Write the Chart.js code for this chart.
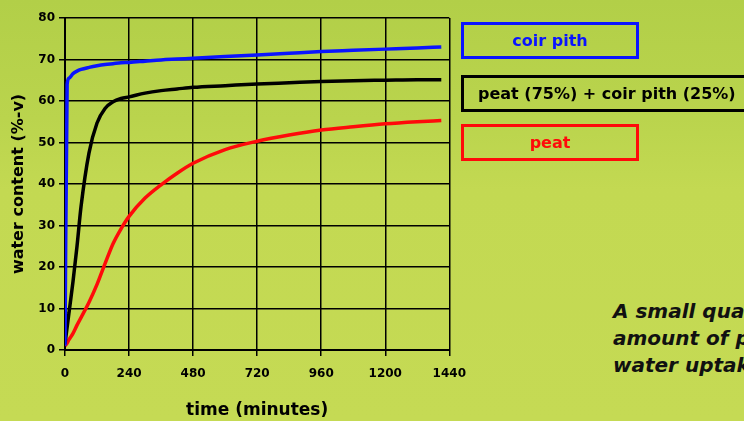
<!DOCTYPE html>
<html>
<head>
<meta charset="utf-8">
<script src="https://cdn.jsdelivr.net/npm/chart.js@4"></script>
<style>
  html, body { margin: 0; padding: 0; }
  body {
    width: 744px; height: 421px; overflow: hidden; position: relative;
    background: linear-gradient(180deg, #b2cf48 0%, #bad44d 28%, #c3d952 45%, #c5da54 100%);
    font-family: "DejaVu Sans", Verdana, sans-serif;
  }
  #wrap { position: absolute; left: 0; top: 0; width: 477px; height: 421px; }
  .box {
    position: absolute; box-sizing: border-box; height: 37px; border: 3px solid;
    font-weight: bold; font-size: 16px; line-height: 31px; text-align: center;
  }
  #note {
    position: absolute; left: 613px; top: 298px; white-space: nowrap;
    font-weight: bold; font-style: italic; font-size: 20px; line-height: 27px; color: #111;
  }
</style>
</head>
<body>
<div id="wrap"><canvas id="waterChart"></canvas></div>
<div class="box" style="left:461px;top:22px;width:178px;border-color:#0a14ff;color:#0a14ff;">coir pith</div>
<div class="box" style="left:461px;top:75px;width:300px;border-color:#000;color:#000;text-align:left;padding-left:14px;">peat (75%) + coir pith (25%)</div>
<div class="box" style="left:461px;top:124px;width:178px;border-color:#ff0a0a;color:#ff0a0a;">peat</div>
<div id="note">A small quantity of coir pith<br>amount of peat increases<br>water uptake</div>
<script>
// time in minutes, shared by all series
const timeMinutes = [0, 8, 15, 30, 45, 60, 90, 120, 150, 180, 210, 240, 300, 360, 420, 480, 600, 720, 840, 960, 1080, 1200, 1320, 1410]
// water content (%-v)
const coirPith = [1, 64, 65.5, 66.6, 67.2, 67.6, 68.1, 68.5, 68.8, 69.0, 69.2, 69.3, 69.6, 69.9, 70.1, 70.3, 70.7, 71.1, 71.5, 71.9, 72.2, 72.5, 72.8, 73.0]
const peatCoirMix = [1.5, 5.5, 9, 16.5, 25, 34.5, 47.5, 54.7, 58.2, 59.8, 60.6, 61, 61.9, 62.5, 62.9, 63.3, 63.7, 64.1, 64.4, 64.7, 64.9, 65, 65.1, 65.1]
const peat = [1, 1.7, 2.5, 4, 6, 7.8, 11.5, 15.8, 20.8, 25.6, 29.2, 32.2, 36.6, 39.8, 42.6, 45, 48.3, 50.3, 51.8, 53, 53.8, 54.5, 55, 55.3]
const xTicks = [0, 240, 480, 720, 960, 1200, 1440]

const toPoints = (vals) => vals.map((v, i) => ({ x: timeMinutes[i], y: v }))

const tickFont = { family: "DejaVu Sans", size: 12, weight: "bold" }

const series = (label, vals, color) => ({
  label: label,
  data: toPoints(vals),
  borderColor: color,
  backgroundColor: color,
  borderWidth: 3.5,
  pointRadius: 0,
  cubicInterpolationMode: "monotone",
  fill: false,
})

const ctx = document.getElementById("waterChart").getContext("2d")
new Chart(ctx, {
  type: "line",
  data: {
    datasets: [
      series("coir pith", coirPith, "#0a14ff"),
      series("peat (75%) + coir pith (25%)", peatCoirMix, "#000000"),
      series("peat", peat, "#ff0a0a"),
    ],
  },
  options: {
    responsive: true,
    maintainAspectRatio: false,
    animation: false,
    layout: { padding: { left: 0, top: 18, right: 16, bottom: 0 } },
    plugins: { legend: { display: false }, tooltip: { enabled: false } },
    scales: {
      x: {
        type: "linear",
        min: 0,
        max: 1440,
        afterBuildTicks: (scale) => { scale.ticks = xTicks.map((v) => ({ value: v })) },
        afterFit: (scale) => { scale.height = 71 },
        grid: { color: "#000", lineWidth: 1.5, tickLength: 6 },
        border: { color: "#000", width: 2 },
        ticks: { color: "#000", font: tickFont, padding: 11, maxRotation: 0, callback: (v) => String(v) },
        title: { display: true, text: "time (minutes)", color: "#000", font: { family: "DejaVu Sans", size: 17, weight: "bold" }, padding: { top: 0, bottom: 0 } },
      },
      y: {
        min: 0,
        max: 80,
        afterFit: (scale) => { scale.width = 65 },
        grid: { color: "#000", lineWidth: 1.5, tickLength: 6 },
        border: { color: "#000", width: 2 },
        ticks: { stepSize: 10, color: "#000", font: tickFont, padding: 4 },
        title: { display: true, text: "water content (%-v)", color: "#000", font: { family: "DejaVu Sans", size: 16, weight: "bold" }, padding: { top: 9, bottom: 0 } },
      },
    },
  },
})
</script>
</body>
</html>
